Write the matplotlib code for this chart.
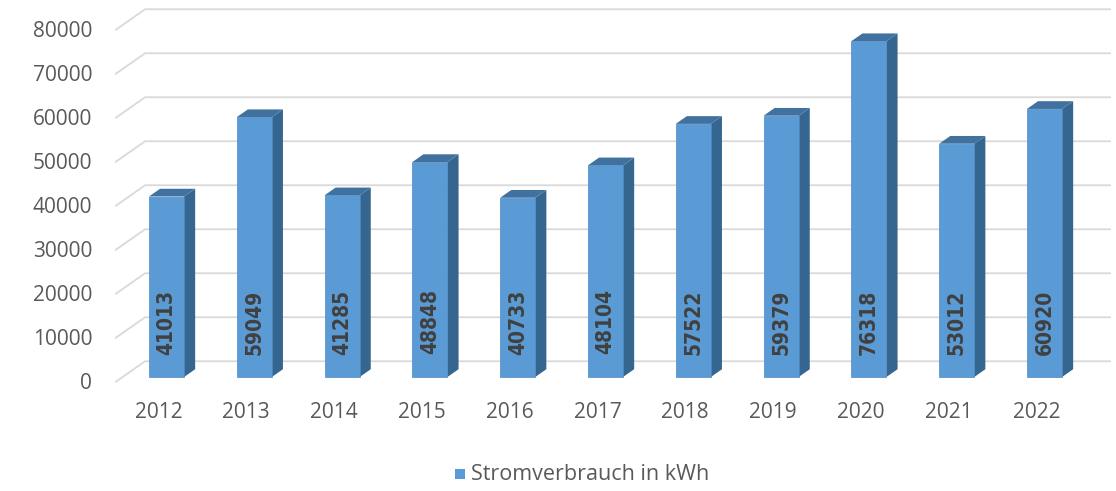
import matplotlib
matplotlib.use("Agg")
import matplotlib.pyplot as plt
from matplotlib.patches import Polygon

# Daten
jahre = ["2012", "2013", "2014", "2015", "2016", "2017", "2018", "2019", "2020", "2021", "2022"]
verbrauch = [41013, 59049, 41285, 48848, 40733, 48104, 57522, 59379, 76318, 53012, 60920]
wert_labels = ["41013", "59049", "41285", "48848", "40733", "48104", "57522", "59379", "76318", "53012", "60920"]
y_ticks = [0, 10000, 20000, 30000, 40000, 50000, 60000, 70000, 80000]
legende = "Stromverbrauch in kWh"

W, H = 1116, 491
fig = plt.figure(figsize=(W / 100, H / 100), dpi=100)
ax = fig.add_axes([0, 0, 1, 1])
ax.axis('off')

# Pixel -> Daten Umrechnung (Ebene der Balkenfront)
px_x = 87.8          # Pixel pro Kategorie
px_y = 0.00440       # Pixel pro kWh
x0_px = 166.5        # Mitte erster Balken
base_px = H - 377    # Nulllinie der Balkenfront (von unten)
ax.set_xlim(-x0_px / px_x, (W - x0_px) / px_x)
ax.set_ylim(-base_px / px_y, (H - base_px) / px_y)

# Tiefe: volle Tiefe 30 px nach rechts, 21 px nach oben
tiefe_dx = 30 / px_x
tiefe_dy = 21 / px_y
bar_front = 0.25
bar_back = 0.62


def proj(x, v, d):
    # d = Tiefe (0 vorne, 1 hinten)
    return (x + tiefe_dx * (d - bar_front), v + tiefe_dy * (d - bar_front))


# Gitterlinien (Boden + Rückwand)
links, rechts = -0.5, 10.5
for t in y_ticks:
    p1 = proj(links, t, 0)
    p2 = proj(links, t, 1)
    p3 = proj(rechts, t, 1)
    ax.plot([p1[0], p2[0], p3[0]], [p1[1], p2[1], p3[1]], color='#d9d9d9', lw=1.3,
            zorder=1, solid_capstyle='butt')
    ax.text(p1[0] - 23 / px_x, p1[1] - 1 / px_y, str(t), ha='right', va='center',
            fontsize=15, color='#595959', family='Open Sans')

# Balken
breite = 0.40
farbe_front = '#5b9bd5'
farbe_seite = '#35668f'
farbe_oben = '#41729f'
bars = ax.bar(range(len(jahre)), verbrauch, width=breite, color=farbe_front,
              edgecolor='#4a8ac4', lw=0.5, zorder=3)
for i, v in enumerate(verbrauch):
    xl, xr = i - breite / 2, i + breite / 2
    d = bar_back
    dx = tiefe_dx * (d - bar_front)
    dy = tiefe_dy * (d - bar_front)
    seite = Polygon([(xr, 0), (xr + dx, dy), (xr + dx, v + dy), (xr, v)],
                    closed=True, facecolor=farbe_seite, edgecolor='none', zorder=2)
    oben = Polygon([(xl, v), (xl + dx, v + dy), (xr + dx, v + dy), (xr, v)],
                   closed=True, facecolor=farbe_oben, edgecolor='none', zorder=2)
    ax.add_patch(seite)
    ax.add_patch(oben)
    ax.text(i, 12500, wert_labels[i], rotation=90, ha='center', va='center',
            fontsize=15, fontweight='bold', color='#404040', family='DejaVu Sans',
            fontstretch='condensed', zorder=4)

# Jahreszahlen
for i, j in enumerate(jahre):
    ax.text(i - 8 / px_x, (H - 413 - base_px) / px_y, j, ha='center', va='center',
            fontsize=15, color='#595959', family='Open Sans')

# Legende
leg_y = (H - 474 - base_px) / px_y
ax.add_patch(Polygon([((455 - x0_px) / px_x, leg_y - 5 / px_y),
                      ((465 - x0_px) / px_x, leg_y - 5 / px_y),
                      ((465 - x0_px) / px_x, leg_y + 5 / px_y),
                      ((455 - x0_px) / px_x, leg_y + 5 / px_y)],
                     closed=True, facecolor=farbe_front, edgecolor='none'))
ax.text((471 - x0_px) / px_x, leg_y, legende, ha='left', va='center',
        fontsize=15.5, color='#595959', family='Open Sans')

fig.savefig('out.png', dpi=100)
